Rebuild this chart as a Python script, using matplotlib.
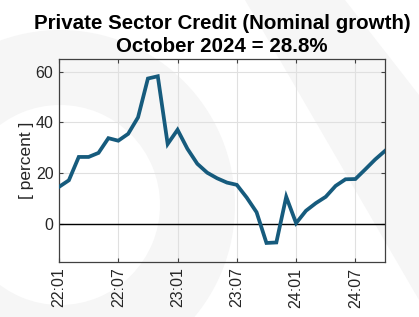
import matplotlib
matplotlib.use('Agg')
import matplotlib.pyplot as plt
from matplotlib.patches import Wedge, Polygon
import numpy as np

# Datos mensuales: enero 2022 a octubre 2024
tick_labels = ['22:01', '22:07', '23:01', '23:07', '24:01', '24:07']
tick_idx = [0, 6, 12, 18, 24, 30]
growth = [14.6, 17.2, 26.4, 26.4, 28.0, 33.8, 32.8, 35.5, 42.0, 57.3,
          58.2, 31.5, 37.1, 29.6, 23.7, 20.2, 18.0, 16.3, 15.4, 10.4,
          4.6, -7.5, -7.3, 10.7, 0.3, 5.2, 8.2, 10.7, 15.0, 17.6,
          17.7, 21.5, 25.4, 28.8]

plt.rcParams['font.family'] = ['Liberation Sans', 'DejaVu Sans']

fig = plt.figure(figsize=(4.19, 3.17), dpi=100)

# Marca de agua de fondo (muy clara)
wm = fig.add_axes([0, 0, 1, 1], zorder=-5)
wm.set_xlim(0, 419)
wm.set_ylim(317, 0)
wm.axis('off')
wm.add_patch(Wedge((60, 205), 175, 0, 360, width=75, color='#f6f6f6', lw=0))
wm.add_patch(Polygon([[245, 0], [345, 0], [419, 95], [419, 300]],
                     closed=True, color='#f6f6f6', lw=0))

ax = fig.add_axes([0.1408, 0.1735, 0.7781, 0.6404])
ax.set_facecolor('none')
x = np.arange(len(growth))
ax.plot(x, growth, color='#165b7d', lw=2.7, solid_joinstyle='miter', zorder=3)
ax.axhline(0, color='black', lw=1.0, zorder=2)

ax.set_xlim(0, len(growth) - 1)
ax.set_ylim(-15, 65)
ax.set_xticks(tick_idx)
ax.set_xticklabels(tick_labels, rotation=90)
ax.set_yticks([0, 20, 40, 60])
ax.grid(True, color='#e0e0e0', lw=0.8)
ax.tick_params(direction='in', top=True, right=True, length=3, pad=4,
               labelsize=11.5, labelcolor='#262626', color='#404040')
for s in ax.spines.values():
    s.set_color('#404040')
    s.set_linewidth(0.9)
ax.set_ylabel('[ percent ]', fontsize=12.5, color='#262626', labelpad=1)
ax.set_title('Private Sector Credit (Nominal growth)\nOctober 2024 = 28.8%',
             fontsize=14.8, fontweight='bold', pad=5, linespacing=1.25)

fig.savefig('out.png', dpi=100)
